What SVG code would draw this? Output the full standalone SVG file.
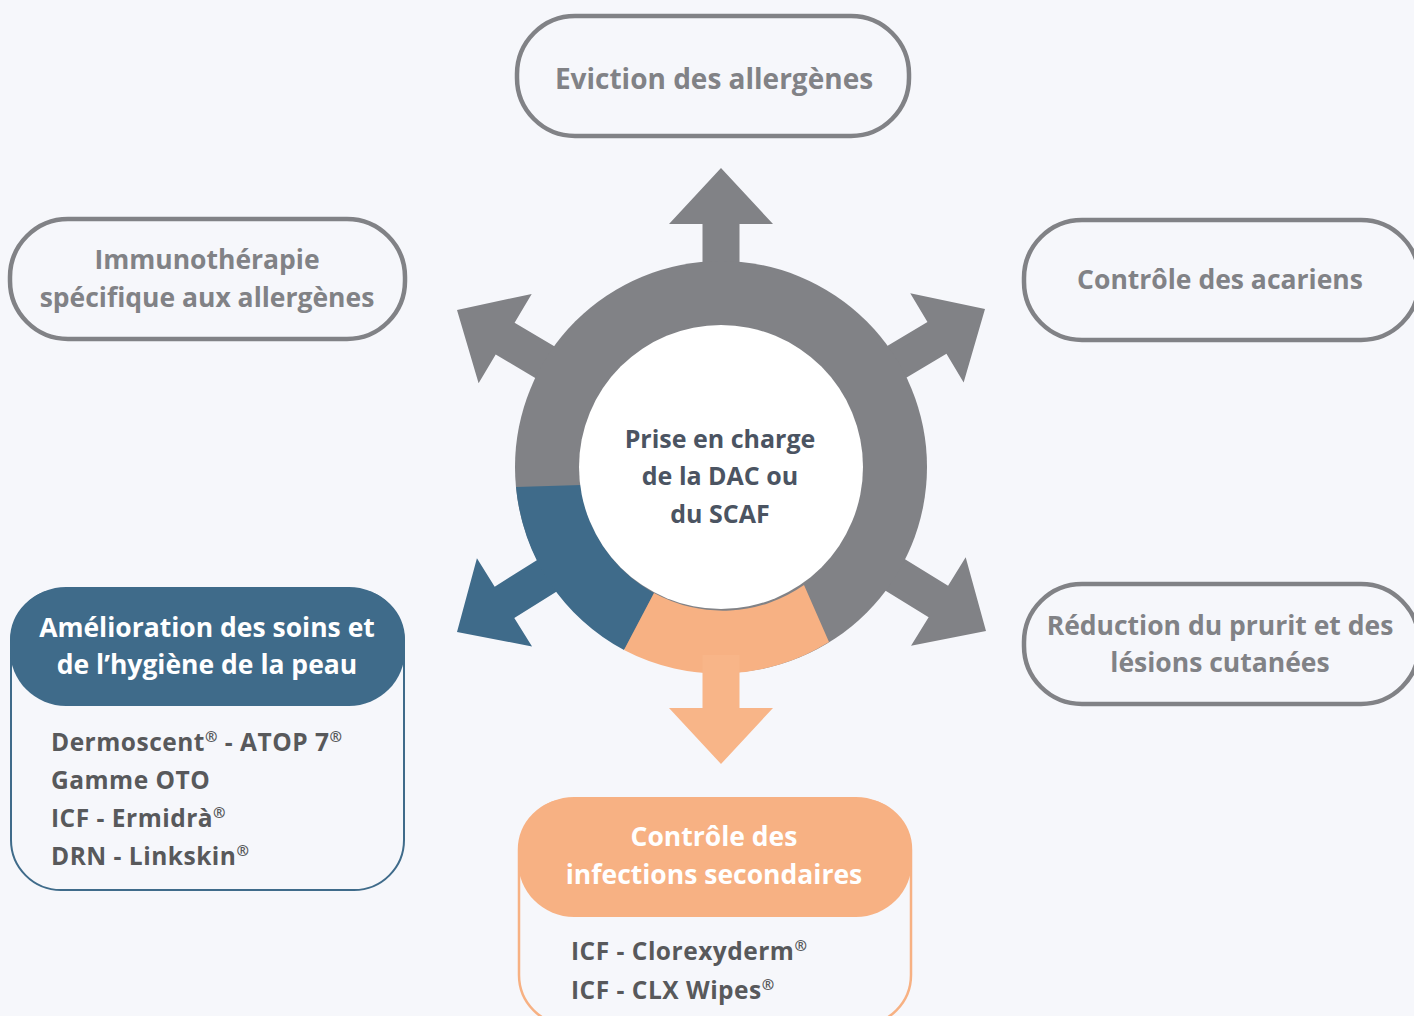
<svg xmlns="http://www.w3.org/2000/svg" width="1414" height="1016" viewBox="0 0 1414 1016">
<style>
.bg{fill:#f6f7fb}
.gbox{fill:#f6f7fb;stroke:#818286;stroke-width:4.5}
.t{font-family:"Open Sans","Noto Sans",sans-serif;font-weight:700;text-anchor:middle}
.gt{fill:#818286;font-size:26.5px}
.wt{fill:#ffffff;font-size:26.5px}
.ct{fill:#4b5462;font-size:25px}
.bt{font-family:"Open Sans","Noto Sans",sans-serif;font-weight:700;fill:#58595b;font-size:24.5px;letter-spacing:0.5px}
.sup{font-size:15px}
.grey{fill:#818286}
</style>
<defs>
<path id="arrowL" d="M0,0 L-56,-52 L-56,-18.5 L-140,-18.5 L-140,18.5 L-56,18.5 L-56,52 Z"/>
</defs>
<rect class="bg" x="0" y="0" width="1414" height="1016"/>

<g id="connectors">
  <use href="#arrowL" class="grey" transform="translate(721,168) rotate(-90)"/>
  <use href="#arrowL" class="grey" transform="translate(457,310) rotate(210.7)"/>
  <use href="#arrowL" class="grey" transform="translate(985,309) rotate(-30.9)"/>
  <use href="#arrowL" class="grey" transform="translate(986,631) rotate(31.7)"/>
  <use href="#arrowL" fill="#3f6b8a" transform="translate(457,632) rotate(148)"/>
</g>

<g id="hub">
  <circle cx="721" cy="467" r="206" fill="#818286"/>
  <path d="M516,487 A206,206 0 0 0 624,650 L654,593 A142,142 0 0 1 581,485 Z" fill="#3f6b8a"/>
  <path d="M624,650 A206,206 0 0 0 829,642 L804,585 A142,142 0 0 1 654,593 Z" fill="#f7b183"/>
  <path d="M721,764 L669,708 L702.5,708 L702.5,655 L739.5,655 L739.5,708 L773,708 Z" fill="#f8b588"/>
  <circle cx="721" cy="467" r="142" fill="#ffffff"/>
  <text class="t ct" x="720" y="448">Prise en charge</text>
  <text class="t ct" x="720" y="485">de la DAC ou</text>
  <text class="t ct" x="720" y="523">du SCAF</text>
</g>

<g id="eviction">
  <rect class="gbox" x="517" y="16" width="392" height="120" rx="58"/>
  <text class="t gt" x="714" y="89" style="font-size:28px">Eviction des allergènes</text>
</g>

<g id="immunotherapie">
  <rect class="gbox" x="10" y="219" width="395" height="120" rx="58"/>
  <text class="t gt" x="207" y="269">Immunothérapie</text>
  <text class="t gt" x="207" y="307">spécifique aux allergènes</text>
</g>

<g id="acariens">
  <rect class="gbox" x="1024" y="220" width="395" height="120" rx="58"/>
  <text class="t gt" x="1220" y="289">Contrôle des acariens</text>
</g>

<g id="prurit">
  <rect class="gbox" x="1024" y="584" width="395" height="120" rx="58"/>
  <text class="t gt" x="1220" y="635">Réduction du prurit et des</text>
  <text class="t gt" x="1220" y="672">lésions cutanées</text>
</g>

<g id="soins">
  <rect x="11" y="590" width="393" height="300" rx="50" fill="#f6f7fb" stroke="#3f6b8a" stroke-width="2"/>
  <rect x="10" y="587" width="395" height="119" rx="56" fill="#3f6b8a"/>
  <text class="t wt" x="207" y="637">Amélioration des soins et</text>
  <text class="t wt" x="207" y="674">de l’hygiène de la peau</text>
  <text class="bt" x="51" y="751">Dermoscent<tspan class="sup" dy="-9">®</tspan><tspan dy="9"> - ATOP 7</tspan><tspan class="sup" dy="-9">®</tspan></text>
  <text class="bt" x="51" y="789">Gamme OTO</text>
  <text class="bt" x="51" y="827">ICF - Ermidrà<tspan class="sup" dy="-9">®</tspan></text>
  <text class="bt" x="51" y="865">DRN - Linkskin<tspan class="sup" dy="-9">®</tspan></text>
</g>

<g id="infections">
  <rect x="519" y="800" width="392" height="225" rx="50" fill="#f6f7fb" stroke="#f7b183" stroke-width="2.5"/>
  <rect x="518" y="797" width="394" height="120" rx="56" fill="#f7b183"/>
  <text class="t wt" x="714" y="846">Contrôle des</text>
  <text class="t wt" x="714" y="884">infections secondaires</text>
  <text class="bt" x="571" y="960">ICF - Clorexyderm<tspan class="sup" dy="-9">®</tspan></text>
  <text class="bt" x="571" y="999">ICF - CLX Wipes<tspan class="sup" dy="-9">®</tspan></text>
</g>
</svg>
